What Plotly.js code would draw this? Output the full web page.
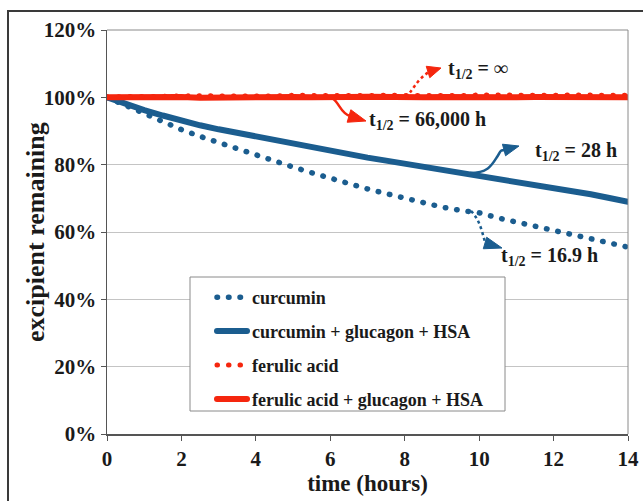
<!DOCTYPE html>
<html>
<head>
<meta charset="utf-8">
<script src="https://cdn.plot.ly/plotly-3.0.1.min.js"></script>
<style>
html,body{margin:0;padding:0;background:#fff}
#chart{width:643px;height:501px}
#chart path.js-line{stroke-linecap:round}
#chart .legendlines path{stroke-linecap:round}
</style>
</head>
<body>
<div id="chart"></div>
<script>
// ---- data ----
var timeHours = [0,0.5,1,1.5,2,2.5,3,3.5,4,4.5,5,5.5,6,6.5,7,7.5,8,8.5,9,9.5,10,10.5,11,11.5,12,12.5,13,13.5,14];
var curcumin = [100,97.6,95.2,92.7,90.4,88.4,86.5,84.6,82.8,81.0,79.3,77.6,75.9,74.3,72.8,71.4,70.0,68.7,67.4,66.4,65.7,64.2,62.9,61.6,60.3,59.0,57.8,56.6,55.5];
var curcuminGH = [100,98.0,96.2,94.6,93.0,91.7,90.5,89.4,88.3,87.2,86.2,85.2,84.1,83.1,82.1,81.2,80.3,79.4,78.5,77.6,76.8,75.9,75.0,74.2,73.3,72.3,71.2,70.1,69.0];
var ferulic = [100,100.3,100.2,100.4,100.3,100.5,100.4,100.3,100.5,100.4,100.6,100.5,100.4,100.6,100.5,100.6,100.5,100.7,100.6,100.5,100.7,100.6,100.6,100.7,100.6,100.7,100.6,100.7,100.6];
var ferulicGH = [100,100.1,100.0,100.2,100.1,99.9,100.0,100.1,99.9,100.0,100.1,100.0,99.9,100.1,100.2,100.0,100.1,100.0,100.1,100.0,99.9,100.1,100.0,100.1,100.0,100.1,100.0,100.1,100.0];
var seriesNames = ["curcumin","curcumin + glucagon + HSA","ferulic acid","ferulic acid + glucagon + HSA"];
var yTickVals = [0,20,40,60,80,100,120];
var yTickLabels = ["0%","20%","40%","60%","80%","100%","120%"];
var xTickVals = [0,2,4,6,8,10,12,14];
var xTickLabels = ["0","2","4","6","8","10","12","14"];
var xTitle = "time (hours)";
var yTitle = "excipient remaining";
var halfLifeLabels = ["t<sub>1/2</sub> = \u221e","t<sub>1/2</sub> = 66,000 h","t<sub>1/2</sub> = 28 h","t<sub>1/2</sub> = 16.9 h"];

var BLUE = "#1b5d8f", RED = "#f5260e", INK = "#1a1a1a";
var FONT = "Liberation Serif";
var DOTS = "0.5px,11px";

// plot geometry (pixels) used to place decorations
var L = 107, R = 628, T = 30, B = 434;
function dx(px){ return (px - L) / (R - L) * 14; }
function dy(py){ return (B - py) / (B - T) * 120; }
function P(px, py){ return dx(px) + "," + dy(py); }
function fx(px){ return (px - L) / (R - L); }
function fy(py){ return (B - py) / (B - T); }

var traces = [
  {x: timeHours, y: curcumin, name: seriesNames[0], mode: "lines", legendgroup: "a",
   line: {color: BLUE, width: 5.5, dash: DOTS}},
  {x: timeHours, y: curcuminGH, name: seriesNames[1], mode: "lines", legendgroup: "b",
   line: {color: BLUE, width: 6}},
  {x: timeHours, y: ferulicGH, name: seriesNames[3], mode: "lines", legendgroup: "d", showlegend: false,
   line: {color: RED, width: 6}},
  {x: timeHours, y: ferulic, name: seriesNames[2], mode: "lines", legendgroup: "c",
   line: {color: RED, width: 5, dash: DOTS}},
  {x: [null], y: [null], name: seriesNames[3], mode: "lines", legendgroup: "d",
   line: {color: RED, width: 6}}
];

function curve(d, color, dash){
  return {type: "path", xref: "x", yref: "y", path: d, line: {color: color, width: 2.5, dash: dash || "solid"}, layer: "above"};
}
function head(tip, base, half, color){
  var vx = tip[0]-base[0], vy = tip[1]-base[1];
  var len = Math.sqrt(vx*vx+vy*vy); var nx = -vy/len*half, ny = vx/len*half;
  var d = "M" + P(tip[0],tip[1]) + " L" + P(base[0]+nx, base[1]+ny) + " L" + P(base[0]-nx, base[1]-ny) + " Z";
  return {type: "path", xref: "x", yref: "y", path: d, fillcolor: color, line: {color: color, width: 1}, layer: "above"};
}

var shapes = [
  // outer frame
  {type: "path", xref: "paper", yref: "paper",
   path: "M" + fx(8) + "," + fy(520) + " L" + fx(8) + "," + fy(11) + " L" + fx(660) + "," + fy(11),
   line: {color: "#3a3a3a", width: 2}},
  // plot top/right border
  {type: "line", xref: "paper", yref: "paper", x0: 0, x1: 1, y0: 1, y1: 1, line: {color: "#8a8a8a", width: 1}},
  {type: "line", xref: "paper", yref: "paper", x0: 1, x1: 1, y0: 0, y1: 1, line: {color: "#8a8a8a", width: 1}},
  // legend box
  {type: "rect", xref: "paper", yref: "paper", x0: fx(190), x1: fx(505), y0: fy(411), y1: fy(277),
   fillcolor: "#fff", line: {color: "#8a8a8a", width: 1}, layer: "above"},
  // arrows
  curve("M" + P(406,97) + " C" + P(412,92) + " " + P(416,80) + " " + P(429,72), RED, "dot"),
  head([441,68], [428,72], 6, RED),
  curve("M" + P(332,98) + " C" + P(340,103) + " " + P(340,113) + " " + P(350,116), RED),
  head([366,121], [349,116], 6.5, RED),
  curve("M" + P(470,173) + " C" + P(488,173) + " " + P(492,165) + " " + P(497,157) + " S" + P(500,151) + " " + P(505,150), BLUE),
  head([519,146], [504,150], 6, BLUE),
  curve("M" + P(471,211) + " C" + P(480,220) + " " + P(482,232) + " " + P(485,242), BLUE, "dot"),
  head([502,248], [485,243], 6, BLUE)
];

function lab(i, px, py){
  return {text: "<b>" + halfLifeLabels[i] + "</b>", x: dx(px), y: dy(py), xref: "x", yref: "y",
    xanchor: "left", yanchor: "middle", showarrow: false, font: {family: FONT, size: 20, color: INK}};
}

var layout = {
  width: 643, height: 501,
  margin: {l: L, r: 643 - R, t: T, b: 501 - B},
  paper_bgcolor: "#fff", plot_bgcolor: "#fff",
  showlegend: true,
  font: {family: FONT, color: INK},
  xaxis: {range: [0, 14], tickmode: "array", tickvals: xTickVals, ticktext: xTickLabels, ticks: "outside", ticklen: 5, tickcolor: "#555",
    showgrid: false, zeroline: false, showline: true, linecolor: "#555", linewidth: 1.5,
    tickfont: {family: FONT, size: 21, color: INK, weight: "bold"},
    title: {text: "<b>" + xTitle + "</b>", font: {family: FONT, size: 23, color: INK}, standoff: 4}},
  yaxis: {range: [0, 120], tickmode: "array", tickvals: yTickVals, ticktext: yTickLabels, ticks: "outside", ticklen: 5, tickcolor: "#555",
    showgrid: true, gridcolor: "#c4c4c4", gridwidth: 1, zeroline: false, showline: true, linecolor: "#555", linewidth: 1.5,
    tickfont: {family: FONT, size: 21, color: INK, weight: "bold"}},
  legend: {x: fx(212), y: fy(279), xanchor: "left", yanchor: "top",
    borderwidth: 0, bgcolor: "rgba(0,0,0,0)", tracegroupgap: 7.5, traceorder: "grouped",
    font: {family: FONT, size: 18, color: INK, weight: "bold"}},
  shapes: shapes,
  annotations: [
    lab(0, 446, 69), lab(1, 367, 120), lab(2, 533, 151), lab(3, 499, 256),
    {text: "<b>" + yTitle + "</b>", textangle: -90, x: fx(35), y: fy(232), xref: "paper", yref: "paper",
     xanchor: "center", yanchor: "middle", showarrow: false, font: {family: FONT, size: 26, color: INK}}
  ]
};

Plotly.newPlot("chart", traces, layout, {displayModeBar: false, staticPlot: true});
</script>
</body>
</html>
